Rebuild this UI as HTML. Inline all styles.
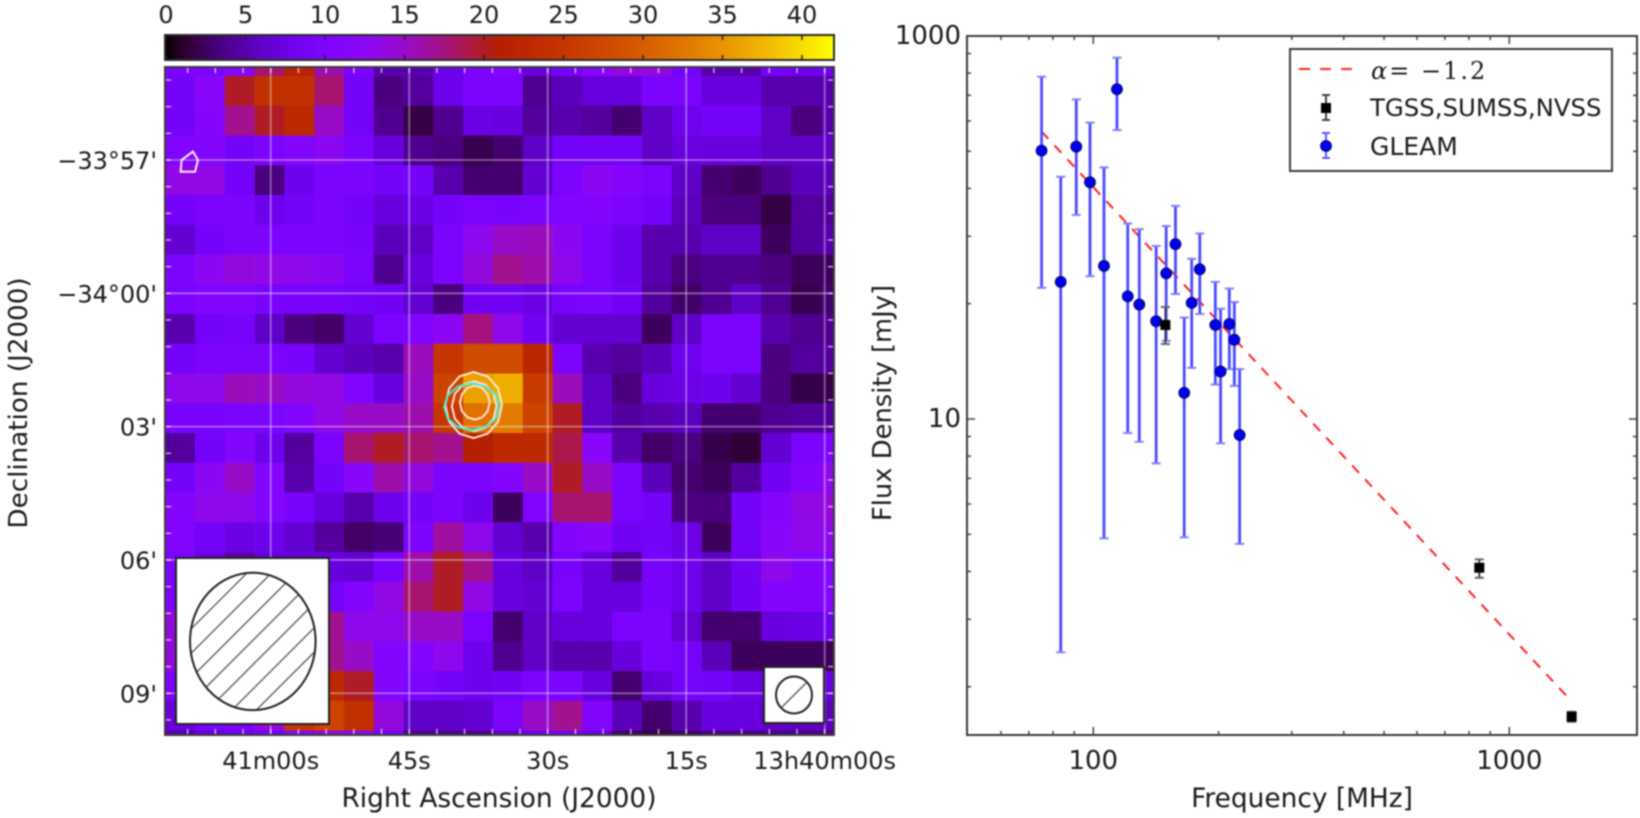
<!DOCTYPE html>
<html lang="en">
<head>
<meta charset="utf-8">
<title>Radio map and spectrum</title>
<style>
html,body{margin:0;padding:0;background:#fff;width:1640px;height:818px;overflow:hidden}
svg{display:block;filter:blur(0.8px)}
text{font-family:"DejaVu Sans","Liberation Sans",sans-serif;fill:#1a1a1a}
</style>
</head>
<body>
<svg id="chart" xmlns="http://www.w3.org/2000/svg" width="1640" height="818" viewBox="0 0 1640 818">
  <defs>
    <linearGradient id="cbar-grad" x1="0" x2="1" y1="0" y2="0"></linearGradient>
    <clipPath id="map-clip"><rect x="165" y="67" width="669" height="668"></rect></clipPath>
    <clipPath id="beam-clip"><ellipse cx="252.8" cy="641.4" rx="62.8" ry="68.7"></ellipse></clipPath>
  </defs>
  <rect width="1640" height="818" fill="#fff"></rect>

  <g id="colorbar">
    <rect x="165" y="35" width="669" height="25" fill="url(#cbar-grad)" stroke="#2a2a2a" stroke-width="2"></rect>
  </g>
  <g id="map-cells" clip-path="url(#map-clip)"></g>
  <g id="graticule" clip-path="url(#map-clip)"></g>
  <g id="contours" clip-path="url(#map-clip)"></g>

  <g>
    <rect x="176" y="558" width="153" height="166" fill="#fff" stroke="#222" stroke-width="2"></rect>
    <path clip-path="url(#beam-clip)" fill="none" stroke="#555" stroke-width="1.3" d="M180 640L320 500M180 664.4L320 524.4M180 688.8L320 548.8M180 713.2L320 573.2M180 737.6L320 597.6M180 762L320 622M180 786.4L320 646.4"></path>
    <ellipse cx="252.8" cy="641.4" rx="62.8" ry="68.7" fill="none" stroke="#222" stroke-width="2"></ellipse>
  </g>
  <g>
    <rect x="764" y="667" width="60" height="56" fill="#fff" stroke="#222" stroke-width="2"></rect>
    <ellipse cx="794" cy="695" rx="18" ry="18.5" fill="none" stroke="#222" stroke-width="2"></ellipse>
    <line x1="782" y1="707" x2="806" y2="683" stroke="#555" stroke-width="1.3"></line>
  </g>
  <rect x="165" y="67" width="669" height="668" fill="none" stroke="#3a3a3a" stroke-width="2"></rect>

  <g id="map-labels"></g>
  <text x="499" y="807" font-size="26.4" text-anchor="middle">Right Ascension (J2000)</text>
  <text x="0" y="0" font-size="26.2" text-anchor="middle" transform="translate(27,403) rotate(-90)">Declination (J2000)</text>

  <rect x="967" y="36" width="670" height="699" fill="#fff"></rect>
  <g id="spec-ticks"></g>
  <polyline id="fit-line" fill="none" stroke="#ff2020" stroke-width="2" stroke-dasharray="10 9"></polyline>
  <g id="gleam-series"></g>
  <g id="survey-series"></g>
  <rect x="967" y="36" width="670" height="699" fill="none" stroke="#3a3a3a" stroke-width="2"></rect>
  <text x="1302" y="807" font-size="26.4" text-anchor="middle">Frequency [MHz]</text>
  <text x="0" y="0" font-size="25.8" text-anchor="middle" transform="translate(891,403) rotate(-90)">Flux Density [mJy]</text>

  <g>
    <rect x="1290" y="49" width="322" height="122" fill="#fff" stroke="#3a3a3a" stroke-width="2"></rect>
    <line x1="1299" y1="69" x2="1352" y2="69" stroke="#ff2020" stroke-width="2" stroke-dasharray="11 10"></line>
    <text x="1371" y="79" font-size="24" style="font-family:'DejaVu Serif','Liberation Serif',serif;letter-spacing:2px"><tspan font-style="italic">α</tspan>= −1.2</text>
    <g stroke="#333" stroke-width="1.8">
      <line x1="1326" y1="95" x2="1326" y2="120"></line><line x1="1322" y1="95" x2="1330" y2="95"></line><line x1="1322" y1="120" x2="1330" y2="120"></line>
      <rect x="1321" y="103" width="10" height="10" fill="#000" stroke="none"></rect>
    </g>
    <text x="1370" y="116" font-size="24.4">TGSS,SUMSS,NVSS</text>
    <g stroke="#5a5aff" stroke-width="2">
      <line x1="1326" y1="133" x2="1326" y2="158"></line><line x1="1322" y1="133" x2="1330" y2="133"></line><line x1="1322" y1="158" x2="1330" y2="158"></line>
      <circle cx="1326" cy="146" r="5.5" fill="#0000f5" stroke="#000040" stroke-width="0.8"></circle>
    </g>
    <text x="1370" y="155" font-size="25">GLEAM</text>
  </g>
</svg>

<script>
// ---------- Heatmap data (flux per cell, rows top to bottom) ----------
const fluxRows = [
 [10,10,12,18,22,16,10,5,5,8,10,11,7,9,12,14,14,9,5,5,9,8,8],
 [9,12,20,24,24,18,9,3.5,4.5,8,10,10,4,5.5,7,7,10,10,7,7,5,5,5],
 [9,11.5,17,20,23,15,9,4,1.8,4,7.5,7,4.5,5,4.5,3,6,8,9,9,6,3.5,5],
 [10.5,11,9,10,11,12.5,10,7,4,3.5,2.2,3,6,9,9,9,6,7,7,7,6,6,6],
 [13.5,13.5,9,3.5,8,10,10,9,9,5,3,3,6.5,10,12.5,11.5,10,6,3,2.5,4,5.5,5.5],
 [9,10,10,8,9,10,9,7,7.5,9,10,9.5,10,10.5,11,10,9,5.5,3.5,3.5,1.8,4.5,4.5],
 [6.5,9,10,10,10,10,9.5,5.5,6,10,13,15,15.5,12.5,10,8,5,5,6,6,2.5,4.5,5],
 [10,12.5,14,13.5,13,12.5,10,4,7,10,14,17,16,13,10,8,5,3.5,4,4,3.5,2.5,2.5],
 [10,10.5,10.5,9.5,9.5,9.5,9,8.5,6.5,3.5,8.5,8.5,7.5,9.5,10,8.5,4.5,2.8,4,6,4,2.2,3],
 [5,9,9.5,6,3.5,2.8,6.5,10,10.5,12.5,17.5,13,8.5,6.5,6.5,6.5,2.5,6,10,10,5,4,4],
 [9,10,10,10,9.5,6.5,5.5,5,15.5,25,28,28,22.5,10,5,4.5,5.5,8,10,10,3.5,4.5,4.5],
 [13,13,15.5,15,14,13.5,10.5,7,15,27,36,37,26,15.5,6,3.5,7,7.5,8,6.5,3.5,2,2],
 [9.5,9.5,10,10,11,13.5,15,15,16,25,32,33,27,20,6,4.5,5,5.5,3,3,4,4.5,4.5],
 [4.5,9,11,8,4.5,10,18,20,18,17,21,23,23,19,12,5,2.8,3.5,2,1.5,6.5,10,10],
 [9,12.5,15,11,5,9,12,16,14,10,10,11,15,20,15,10,5.5,3,2.5,4.5,8.5,11,13],
 [11,13,13,11,9.5,7,5,8,9,10,8,2.5,10.5,18,18,10,9,3.5,3.5,9,11.5,13.5,14],
 [10.5,9,7.5,8,6.5,4.5,2.8,3.2,10,16.5,13,6.5,5,11,12,8.5,9,7.5,2.5,9,12,13,13],
 [10,7,5,6.5,7,7,6.5,9.5,16,20,17,7,6,9.5,7,4.5,9.5,8,6,8.5,13,11,11],
 [10,10,10,10,10,9,11,13.5,18,20,13.5,7,6.5,10,7,7,9.5,8,6,8.5,11,11,11],
 [14,14,14,14,15,17,13,13,15,15,10,3,6,7,7,10,10,6.5,3,3,7,7.5,8],
 [14,14,14,14,15,17,15,11,11,13,8,4,6,5,5,7,10,9,5.5,2.5,2.5,2.5,2.5],
 [10,10,10,11,18,23,20,11,10,9,8,8.5,10,10,7,3,7,9,9,7.5,7,7,7],
 [7,9.5,10,14,25,27,24,14,6,6,6.5,10,15,17,11,5.5,3,5,7,7,6,5.5,5.5],
 [5,7,8,9,12,14,13,9,4,4,4,6,8,9,7,3,2,3,4,4,4,4,4]
];
const colorbarTicks = [0,5,10,15,20,25,30,35,40];
const colorbarLabels = ["0","5","10","15","20","25","30","35","40"];

// Map axes
const raSeconds = [60,45,30,15,0];
const raLabels = ["41m00s","45s","30s","15s","13h40m00s"];
const decMinutes = [0,3,6,9,12];
const decLabels = ["\u221233\u00b057'","\u221234\u00b000'","03'","06'","09'"];

// Contours in map-cell coordinates
const contourRings = [
 {col:10.35,row:12.06,rc:0.95,rr:1.11,color:"#ffe8e0"},
 {col:10.37,row:12.1,rc:0.75,rr:0.84,color:"#ffe8e0"},
 {col:10.39,row:11.98,rc:0.5,rr:0.57,color:"#ffe8e0"},
 {col:10.29,row:12.12,rc:0.93,rr:0.79,color:"#40f0d8"}
];
const sideContourCols = [0.55,0.93,1.1,1.0,0.52];
const sideContourRows = [3.82,3.54,3.82,4.22,4.22];

// ---------- Spectrum data ----------
const gleamFreq = [75.1,83.5,91,98.2,106.1,114,121,129,141.6,149.7,157.6,165.4,172.4,180.3,196.5,202.3,212.3,218.3,224.8];
const gleamFlux = [502,228,514,415,251,726,209,199,180,240,286,117,201,246,176,133,177,161,90.8];
const gleamHigh = [783,429,683,594,454,878,324,313,283,319,360,184,262,305,228,194,219,202,135];
const gleamLow  = [220,24.6,341,236,48.8,568,91.9,87.2,76.6,160,212,49.1,136,188,123,86.4,135,122,47.2];
const surveyFreq = [149,847,1412];
const surveyFlux = [176,40.9,16.7];
const surveyHigh = [196,43,17.2];
const surveyLow  = [157,38.5,16.2];
const fitFreq = [75.1,1393];
const fitFlux = [563,18.6];

const freqMajor = [100,1000];
const freqMajorLabels = ["100","1000"];
const freqMinor = [60,70,80,90,200,300,400,500,600,700,800,900];
const fluxMajor = [1000,100];
const fluxMajorLabels = ["1000","10"];
const fluxMinor = [900,800,700,600,500,400,300,200,90,80,70,60,50,40,30,20];

// ---------- Axis functions ----------
const NS = "http://www.w3.org/2000/svg";
function xFreq(f){ return 1093.3 + 416 * Math.log10(f / 100); }
function yFlux(s){ return 36 + 383 * (3 - Math.log10(s)); }
function xCol(c){ return 165.2 + 29.8 * c; }
function yRow(r){ return 76 + 29.75 * (r - 1); }
function xRA(sec){ return 824.7 - 9.233 * sec; }
function yDec(m){ return 160 + 44.44 * m; }
function xBar(v){ return 166 + 15.9 * v; }
function cmap(v){
  const t = Math.max(0, Math.min(1, v / 42));
  const r = Math.sqrt(t), g = t * t * t, b = Math.max(0, Math.sin(2 * Math.PI * t));
  return "rgb(" + Math.round(r * 255) + "," + Math.round(g * 255) + "," + Math.round(b * 255) + ")";
}
function make(tag, attrs, parent){
  const e = document.createElementNS(NS, tag);
  for (const k in attrs) e.setAttribute(k, attrs[k]);
  parent.appendChild(e);
  return e;
}

// ---------- Colorbar ----------
const grad = document.getElementById("cbar-grad");
for (let i = 0; i <= 50; i++) {
  make("stop", {offset: (i * 2) + "%", "stop-color": cmap(42 * i / 50)}, grad);
}
const cbarGroup = document.getElementById("colorbar");
colorbarTicks.forEach(function (v, i) {
  const t1 = make("line", {x1: xBar(v), x2: xBar(v), y1: 35, y2: 40, stroke: "#222", "stroke-width": 1.5}, cbarGroup);
  
  
  const t2 = make("line", {x1: xBar(v), x2: xBar(v), y1: 55, y2: 60, stroke: "#222", "stroke-width": 1.5}, cbarGroup);
  
  
  const lab = make("text", {x: xBar(v), y: 23, "font-size": 24, "text-anchor": "middle"}, cbarGroup);
  lab.textContent = colorbarLabels[i];
  
  
});

// ---------- Heatmap ----------
const cellGroup = document.getElementById("map-cells");
fluxRows.forEach(function (row, r) {
  row.forEach(function (v, c) {
    const cell = make("rect", {x: xCol(c), y: yRow(r), width: xCol(c + 1) - xCol(c) + 0.3, height: yRow(r + 1) - yRow(r) + 0.3, fill: cmap(v)}, cellGroup);
    
    
  });
});

// ---------- Graticule and white ticks ----------
const grat = document.getElementById("graticule");
raSeconds.forEach(function (s) {
  const l = make("line", {x1: xRA(s), x2: xRA(s), y1: 67, y2: 735, stroke: "#fff", "stroke-opacity": 0.38, "stroke-width": 1.8}, grat);
  
  
});
decMinutes.forEach(function (m) {
  const l = make("line", {x1: 165, x2: 834, y1: yDec(m), y2: yDec(m), stroke: "#fff", "stroke-opacity": 0.38, "stroke-width": 1.8}, grat);
  
  
});
for (let s = 72; s >= 0; s -= 3) {
  [[68, 73], [729, 734]].forEach(function (p) {
    const t = make("line", {x1: xRA(s), x2: xRA(s), y1: p[0], y2: p[1], stroke: "#fff", "stroke-opacity": 0.75, "stroke-width": 1.3}, grat);
    
    
  });
}
for (let m = -2.4; m <= 13; m += 0.6) {
  [[166, 171], [828, 833]].forEach(function (p) {
    const t = make("line", {x1: p[0], x2: p[1], y1: yDec(m), y2: yDec(m), stroke: "#fff", "stroke-opacity": 0.75, "stroke-width": 1.3}, grat);
    
    
  });
}

// ---------- Contours ----------
const contourGroup = document.getElementById("contours");
contourRings.forEach(function (ring) {
  const pts = [];
  for (let i = 0; i < 12; i++) {
    const a = Math.PI * 2 * i / 12;
    pts.push(xCol(ring.col + ring.rc * Math.cos(a)) + "," + yRow(ring.row + ring.rr * Math.sin(a)));
  }
  const poly = make("polygon", {points: pts.join(" "), fill: "none", stroke: ring.color, "stroke-width": 2, "stroke-opacity": 0.95}, contourGroup);
  
  
});
const sidePts = sideContourCols.map(function (c, i) { return xCol(c) + "," + yRow(sideContourRows[i]); });
const sidePoly = make("polygon", {points: sidePts.join(" "), fill: "none", stroke: "#ffe8ff", "stroke-width": 2}, contourGroup);



// ---------- Map tick labels ----------
const mapLabels = document.getElementById("map-labels");
raSeconds.forEach(function (s, i) {
  const t = make("text", {x: xRA(s), y: 769, "font-size": 24, "text-anchor": "middle"}, mapLabels);
  t.textContent = raLabels[i];
  
  
});
decMinutes.forEach(function (m, i) {
  const t = make("text", {x: 157, y: yDec(m) + 9, "font-size": 24, "text-anchor": "end"}, mapLabels);
  t.textContent = decLabels[i];
  
  
});

// ---------- Spectrum ticks ----------
const specTicks = document.getElementById("spec-ticks");
function xTick(f, len) {
  [[735, 735 - len], [36, 36 + len]].forEach(function (p) {
    const t = make("line", {x1: xFreq(f), x2: xFreq(f), y1: p[0], y2: p[1], stroke: "#444", "stroke-width": 1.5}, specTicks);
    
    
  });
}
function yTick(s, len) {
  [[967, 967 + len], [1637, 1637 - len]].forEach(function (p) {
    const t = make("line", {x1: p[0], x2: p[1], y1: yFlux(s), y2: yFlux(s), stroke: "#444", "stroke-width": 1.5}, specTicks);
    
    
  });
}
freqMinor.forEach(function (f) { xTick(f, 4); });
freqMajor.forEach(function (f, i) {
  xTick(f, 8);
  const t = make("text", {x: xFreq(f), y: 769, "font-size": 26, "text-anchor": "middle"}, specTicks);
  t.textContent = freqMajorLabels[i];
  
  
});
fluxMinor.forEach(function (s) { yTick(s, 4); });
fluxMajor.forEach(function (s, i) {
  yTick(s, 8);
  const t = make("text", {x: 961, y: yFlux(s) + 8, "font-size": 26, "text-anchor": "end"}, specTicks);
  t.textContent = fluxMajorLabels[i];
  
  
});

// ---------- Fit line ----------
document.getElementById("fit-line").setAttribute("points", fitFreq.map(function (f, i) {
  return xFreq(f) + "," + yFlux(fitFlux[i]);
}).join(" "));

// ---------- Error bar series ----------
function drawSeries(group, freq, flux, hi, lo, lineColor, capColor, width, name) {
  freq.forEach(function (f, i) {
    const x = xFreq(f);
    const bar = make("line", {x1: x, x2: x, y1: yFlux(hi[i]), y2: yFlux(lo[i]), stroke: lineColor, "stroke-width": width}, group);
    
    
    const capT = make("line", {x1: x - 4.5, x2: x + 4.5, y1: yFlux(hi[i]), y2: yFlux(hi[i]), stroke: capColor, "stroke-width": 2}, group);
    
    
    const capB = make("line", {x1: x - 4.5, x2: x + 4.5, y1: yFlux(lo[i]), y2: yFlux(lo[i]), stroke: capColor, "stroke-width": 2}, group);
    
    
  });
}
const gleamGroup = document.getElementById("gleam-series");
drawSeries(gleamGroup, gleamFreq, gleamFlux, gleamHigh, gleamLow, "#4a4aff", "#8080ff", 2.8, "gleam");
gleamFreq.forEach(function (f, i) {
  const dot = make("circle", {cx: xFreq(f), cy: yFlux(gleamFlux[i]), r: 5.5, fill: "#0000f0", stroke: "#000040", "stroke-width": 0.8}, gleamGroup);
  
  
});
const surveyGroup = document.getElementById("survey-series");
drawSeries(surveyGroup, surveyFreq, surveyFlux, surveyHigh, surveyLow, "#333", "#666", 1.8, "survey");
surveyFreq.forEach(function (f, i) {
  const sq = make("rect", {x: xFreq(f) - 5, y: yFlux(surveyFlux[i]) - 5, width: 10, height: 10, fill: "#000"}, surveyGroup);
  
  
});
</script>
</body>
</html>
